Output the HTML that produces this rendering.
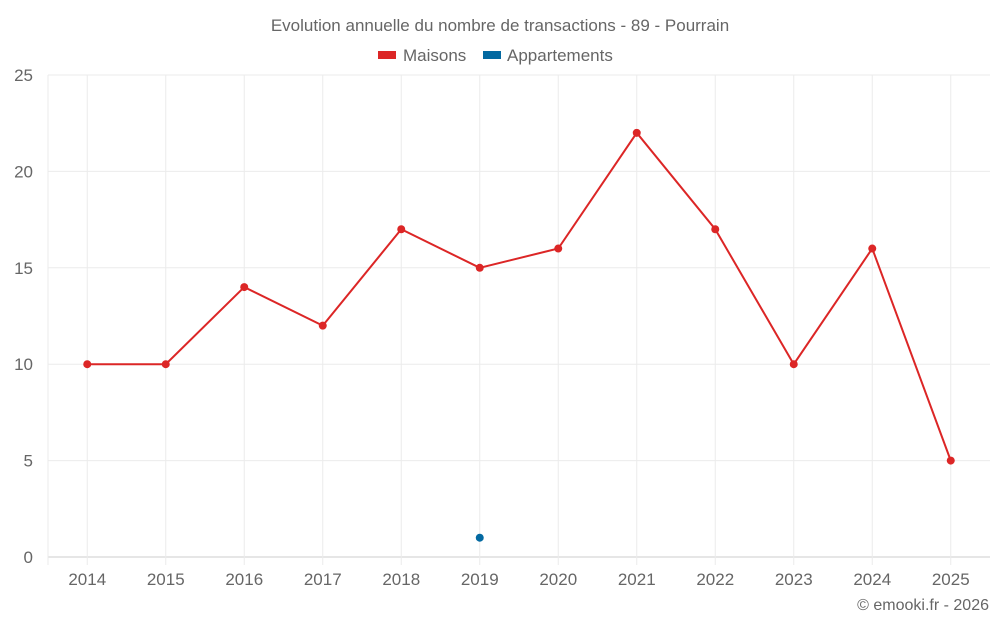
<!DOCTYPE html>
<html><head><meta charset="utf-8"><style>
body{margin:0;background:#fff;font-family:"Liberation Sans",sans-serif;}
svg text{font-family:"Liberation Sans",sans-serif;fill:#666;}
</style></head><body>
<svg id="c" width="1000" height="625">
<text x="500" y="31" text-anchor="middle" font-size="17">Evolution annuelle du nombre de transactions - 89 - Pourrain</text>
<g><rect x="378" y="51" width="18" height="8" fill="#dc2626"/><text x="403" y="61" font-size="17">Maisons</text></g>
<g><rect x="483" y="51" width="18" height="8" fill="#0369a1"/><text x="507" y="61" font-size="17">Appartements</text></g>
<text x="989" y="610" text-anchor="end" font-size="16">© emooki.fr - 2026</text>
<g id="g"></g>
</svg>
<script>
const categories=["2014","2015","2016","2017","2018","2019","2020","2021","2022","2023","2024","2025"];
const maisons=[10,10,14,12,17,15,16,22,17,10,16,5];
const appartements=[null,null,null,null,null,1,null,null,null,null,null,null];
const yTicks=[0,5,10,15,20,25];
const L=48,R=990,T=75,B=557,yMax=25;
const bw=(R-L)/categories.length;
const x=i=>L+bw*(i+0.5);
const y=v=>B-(v/yMax)*(B-T);
const g=document.getElementById('g');
const NS='http://www.w3.org/2000/svg';
function mk(t,a){const e=document.createElementNS(NS,t);for(const k in a)e.setAttribute(k,a[k]);g.appendChild(e);return e;}
yTicks.forEach(v=>{
 const l=mk('line',{x1:L,x2:R,y1:y(v),y2:y(v),stroke:v===0?'#ccc':'#ebebeb'});
 
 
 const t=mk('text',{x:33,y:y(v)+6,'text-anchor':'end','font-size':17});
 t.textContent=v;
 
 
});
mk('line',{x1:L,x2:L,y1:T,y2:B+8,stroke:'#ebebeb'});
categories.forEach((c,i)=>{
 const l=mk('line',{x1:x(i),x2:x(i),y1:T,y2:B+8,stroke:'#ebebeb'});
 
 
 const t=mk('text',{x:x(i),y:585,'text-anchor':'middle','font-size':17});
 t.textContent=c;
 
 
});
const p=mk('polyline',{points:maisons.map((v,i)=>x(i)+','+y(v)).join(' '),fill:'none',stroke:'#dc2626','stroke-width':2});


maisons.forEach((v,i)=>{
 const c=mk('circle',{cx:x(i),cy:y(v),r:4,fill:'#dc2626'});
 
 
});
appartements.forEach((v,i)=>{
 if(v==null)return;
 const c=mk('circle',{cx:x(i),cy:y(v),r:4,fill:'#0369a1'});
 
 
});
</script>
</body></html>
